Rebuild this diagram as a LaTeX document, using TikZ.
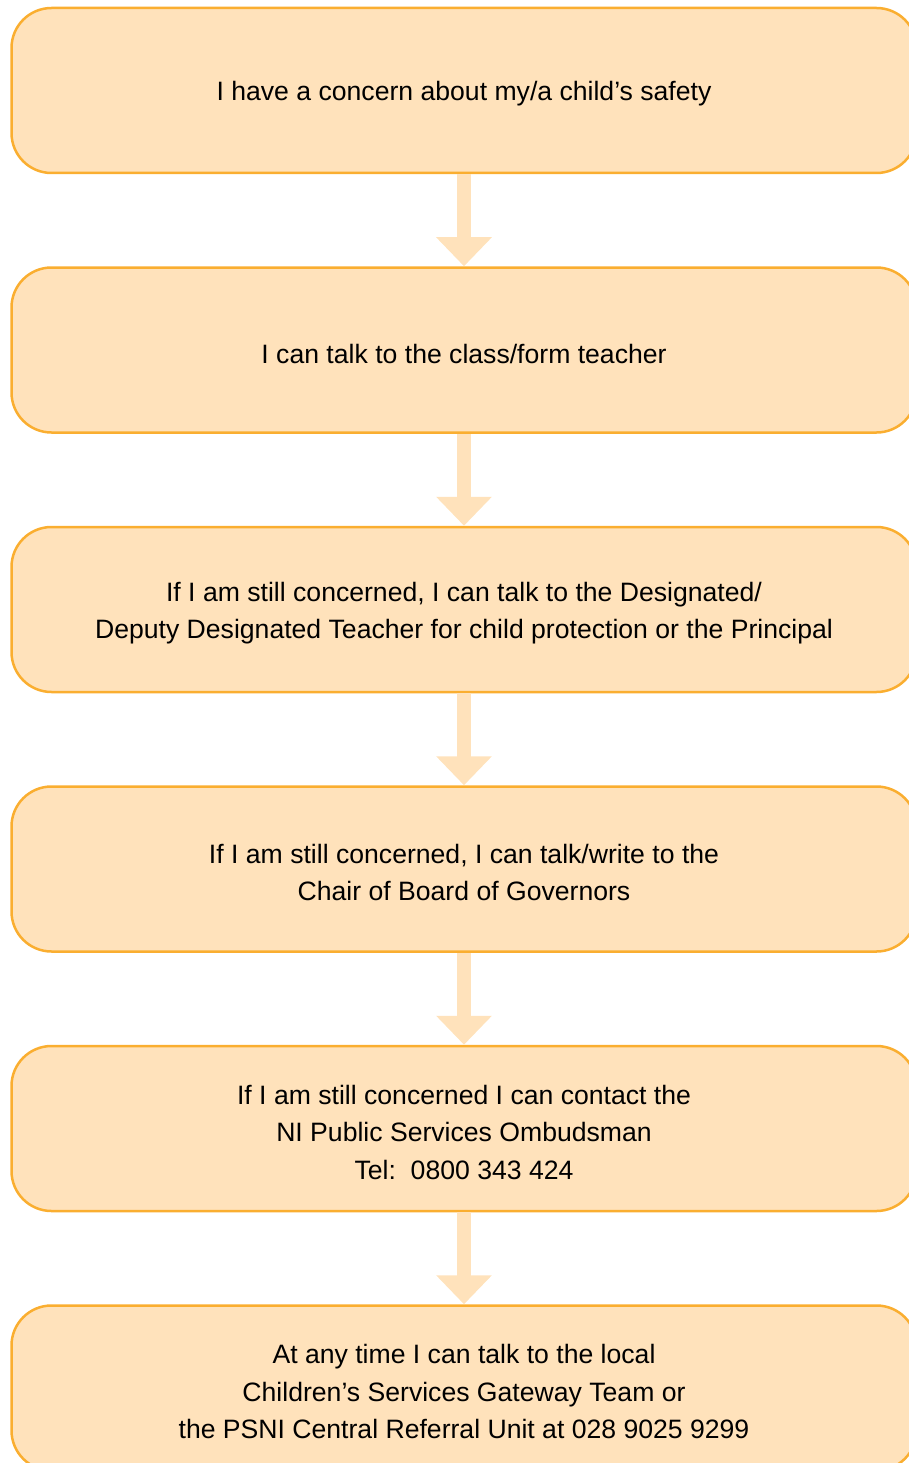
\documentclass[tikz,border=0pt]{standalone}
\usepackage{fontspec}
\setmainfont{Liberation Sans}
\usetikzlibrary{arrows.meta}
\definecolor{boxfill}{RGB}{255,226,187}
\definecolor{boxline}{RGB}{250,174,48}
\definecolor{flowfill}{RGB}{255,226,187}
\tikzset{
  stepbox/.style={draw=boxline, fill=boxfill, line width=2.5pt, rounded corners=40pt,
    minimum width=905pt, minimum height=165pt, inner sep=0pt},
  steptext/.style={align=center, yshift=-3.5pt, font=\fontsize{26.6}{37.5}\selectfont},
  flow/.style={draw=flowfill, line width=14pt, -{Triangle[width=54pt,length=29pt]}}
}
\begin{document}
\begin{tikzpicture}[x=1pt,y=1pt]
    \useasboundingbox (0,0) rectangle (909,-1463);

    \node[stepbox, label={[steptext]center:I have a concern about my/a child’s safety}] (1) at (464,-90.5) {};
    \node[stepbox, label={[steptext]center:I can talk to the class/form teacher}] (2) at (464,-350) {};
    \node[stepbox, label={[steptext]center:If I am still concerned, I can talk to the Designated/\\Deputy Designated Teacher for child protection or the Principal}] (3) at (464,-609.5) {};
    \node[stepbox, label={[steptext]center:If I am still concerned, I can talk/write to the\\Chair of Board of Governors}] (4) at (464,-869) {};
    \node[stepbox, label={[steptext]center:If I am still concerned I can contact the\\NI Public Services Ombudsman\\Tel:\ \ 0800 343 424}] (5) at (464,-1128.5) {};
    \node[stepbox, label={[steptext]center:At any time I can talk to the local\\Children’s Services Gateway Team or\\the PSNI Central Referral Unit at 028 9025 9299}] (6) at (464,-1388) {};

    \draw[flow] (1) -- (2);
    \draw[flow] (2) -- (3);
    \draw[flow] (3) -- (4);
    \draw[flow] (4) -- (5);
    \draw[flow] (5) -- (6);
\end{tikzpicture}
\end{document}
